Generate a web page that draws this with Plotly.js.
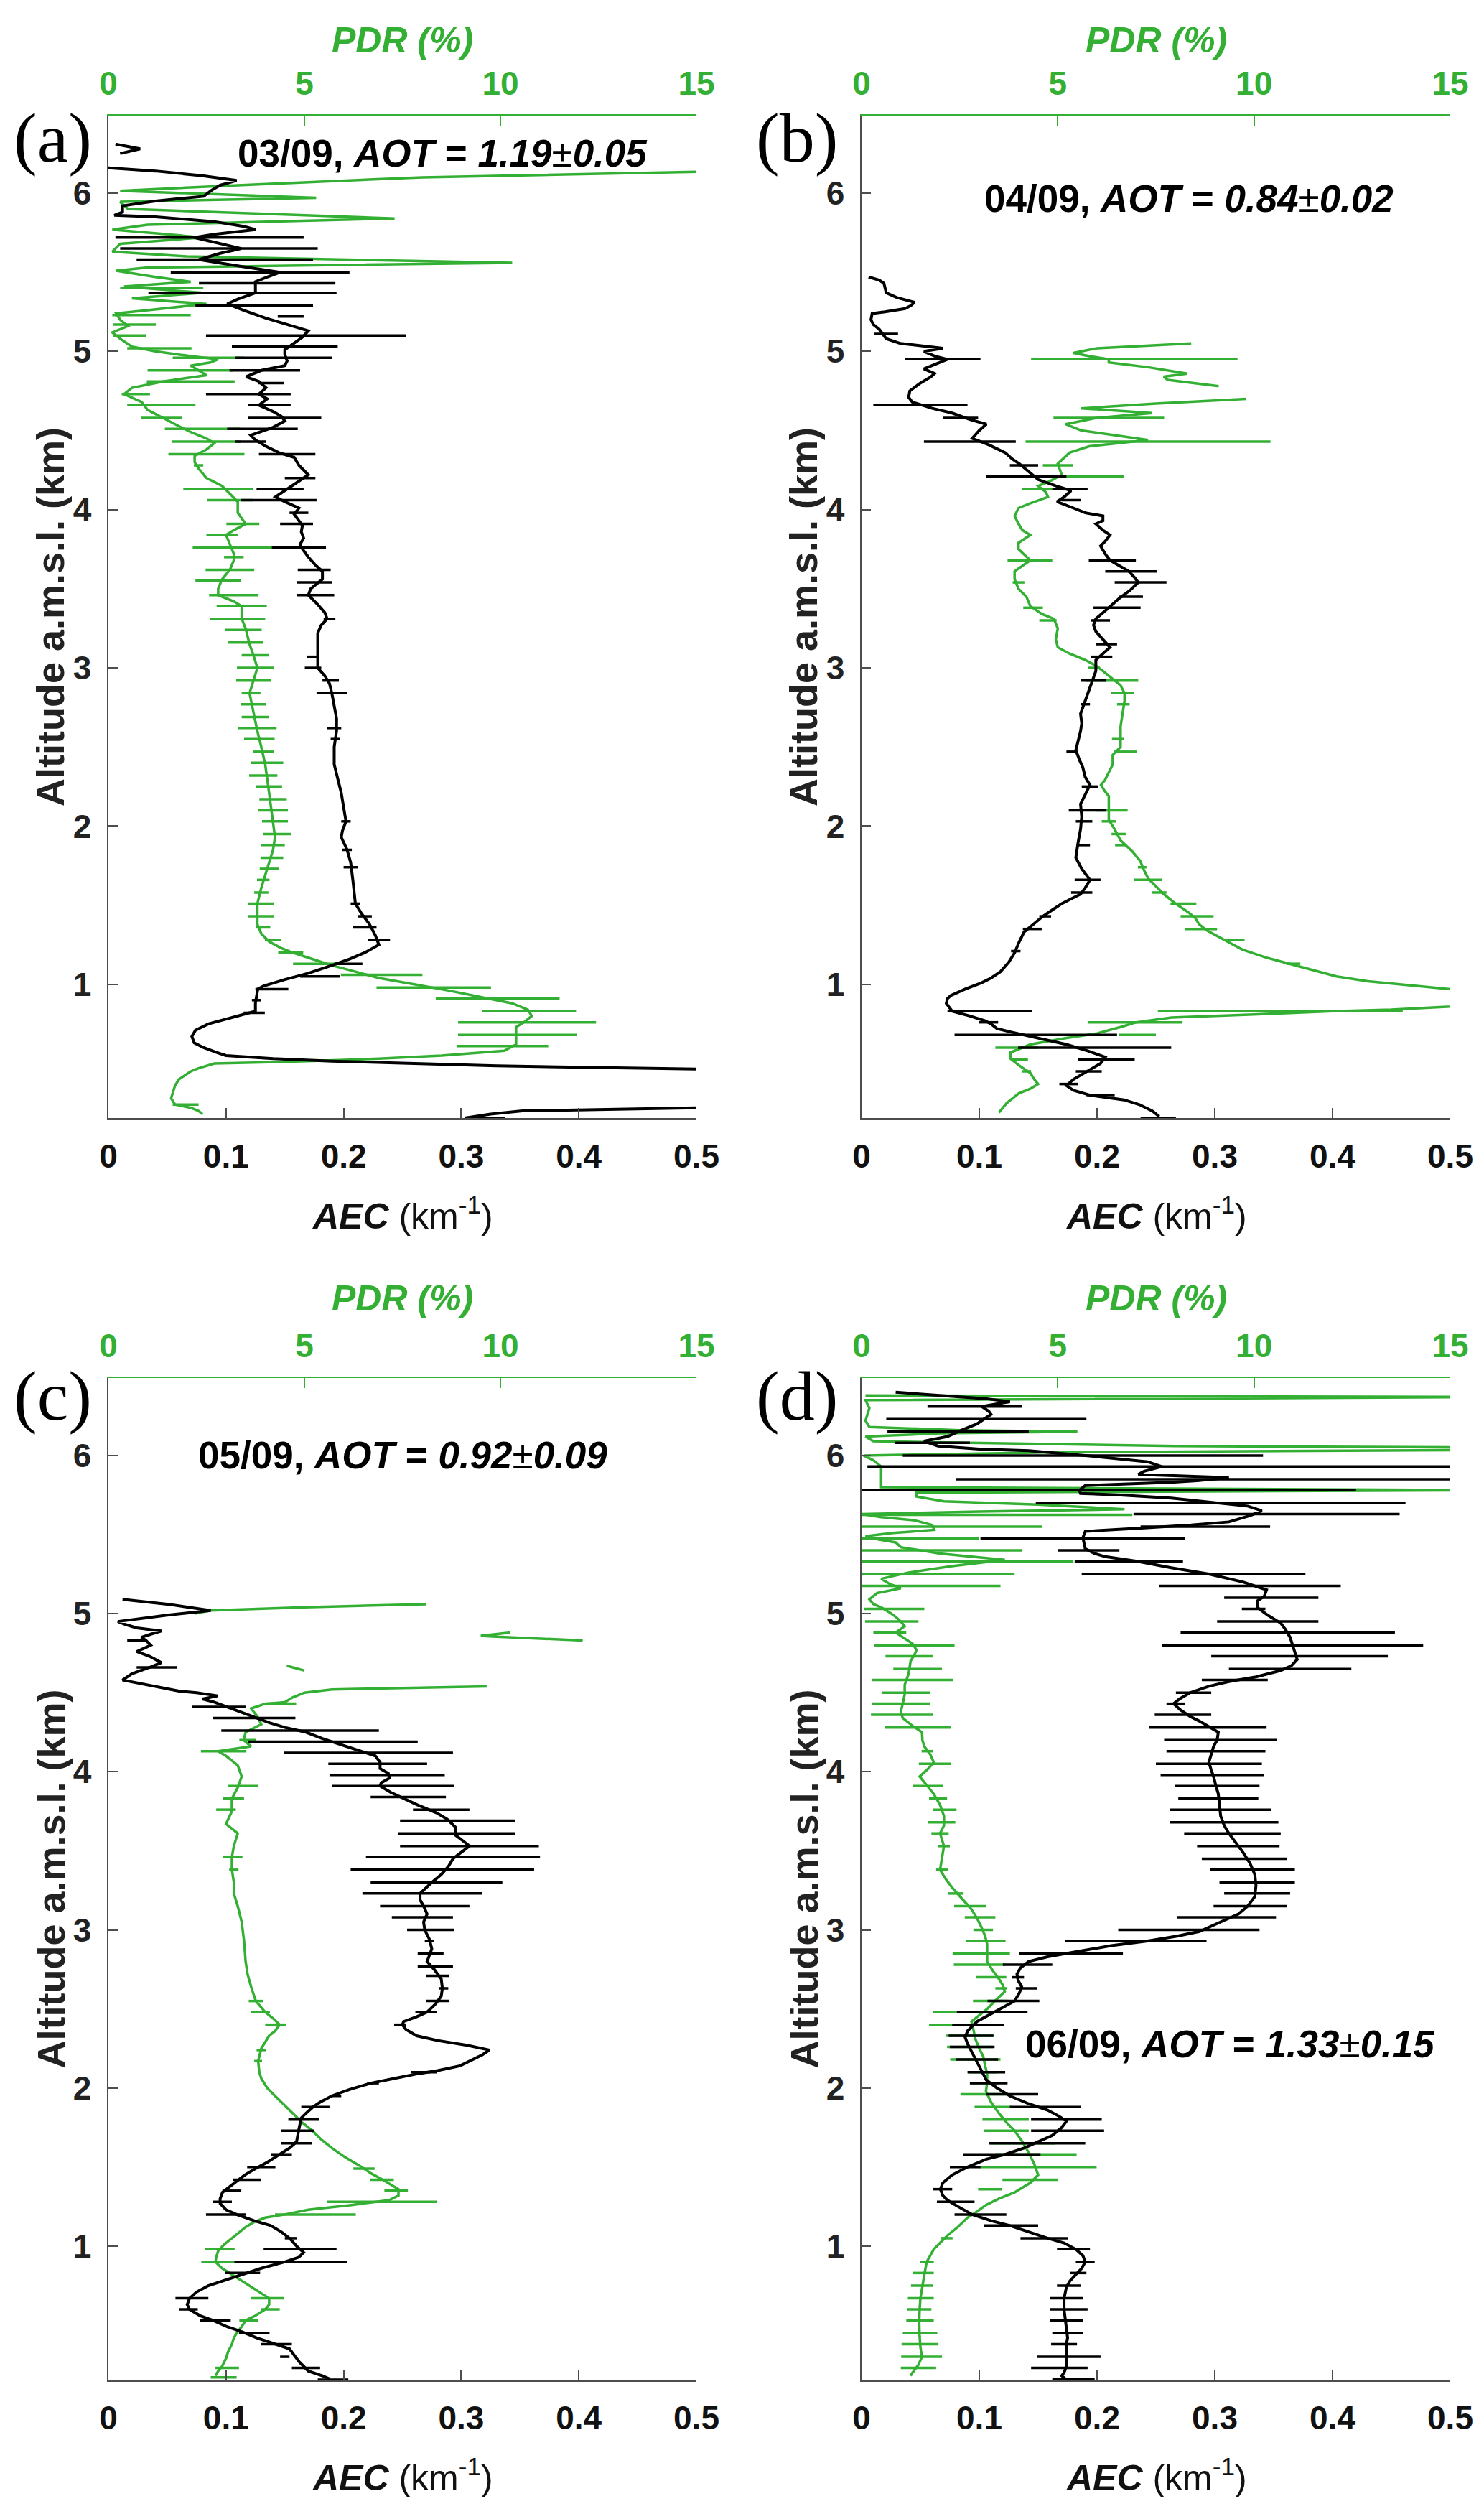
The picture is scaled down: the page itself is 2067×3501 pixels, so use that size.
<!DOCTYPE html>
<html><head><meta charset="utf-8">
<script src="https://cdn.plot.ly/plotly-3.0.1.min.js"></script>
<style>html,body{margin:0;padding:0;background:#fff}#chart{width:2067px;height:3501px}</style>
</head><body><div id="chart"></div>
<script>
// ---------- DATA (altitude km, value) ----------
const aecTicks = [0, 0.1, 0.2, 0.3, 0.4, 0.5];
const pdrTicks = [0, 5, 10, 15];
const altTicks = [1, 2, 3, 4, 5, 6];
const panelLetters = ['(a)', '(b)', '(c)', '(d)'];
const panelDates = ['03/09', '04/09', '05/09', '06/09'];
const panelAot = ['1.19', '0.84', '0.92', '1.33'];
const panelAotErr = ['0.05', '0.02', '0.09', '0.15'];

// Panel (a) AEC profile [alt, AEC]
const aAec = [[6.31,0.006],[6.28,0.027],[6.25,0.010],null,
[6.16,0.000],[6.14,0.040],[6.11,0.080],[6.08,0.109],[6.05,0.095],[6.02,0.088],[5.98,0.081],[5.95,0.040],[5.92,0.012],[5.88,0.012],[5.86,0.005],[5.85,0.040],[5.82,0.090],[5.79,0.115],[5.77,0.125],[5.74,0.090],[5.72,0.073],[5.69,0.090],[5.65,0.113],[5.62,0.095],[5.58,0.077],[5.54,0.110],[5.50,0.146],[5.47,0.135],[5.44,0.125],[5.40,0.125],[5.37,0.125],[5.33,0.110],[5.30,0.101],[5.26,0.115],[5.21,0.134],[5.17,0.152],[5.13,0.170],[5.09,0.165],[5.05,0.158],[5.01,0.150],[4.98,0.150],[4.94,0.152],[4.91,0.150],[4.88,0.130],[4.84,0.117],[4.81,0.128],[4.77,0.134],[4.73,0.128],[4.70,0.135],[4.66,0.128],[4.62,0.140],[4.59,0.147],[4.56,0.150],[4.52,0.140],[4.47,0.121],[4.44,0.125],[4.40,0.134],[4.36,0.145],[4.33,0.158],[4.28,0.162],[4.22,0.170],[4.17,0.160],[4.12,0.150],[4.08,0.142],[4.05,0.150],[4.01,0.162],[3.97,0.158],[3.94,0.161],[3.90,0.165],[3.86,0.164],[3.82,0.166],[3.78,0.163],[3.75,0.165],[3.70,0.170],[3.65,0.176],[3.61,0.182],[3.56,0.182],[3.50,0.172],[3.46,0.170],[3.40,0.178],[3.35,0.184],[3.31,0.186],[3.27,0.181],[3.22,0.178],[3.15,0.178],[3.08,0.178],[3.00,0.178],[2.95,0.184],[2.90,0.188],[2.84,0.190],[2.75,0.192],[2.68,0.194],[2.60,0.194],[2.50,0.192],[2.39,0.192],[2.30,0.195],[2.21,0.198],[2.12,0.200],[2.03,0.202],[1.97,0.199],[1.93,0.198],[1.85,0.203],[1.77,0.206],[1.65,0.208],[1.51,0.210],[1.45,0.215],[1.38,0.222],[1.31,0.227],[1.25,0.230],[1.20,0.218],[1.16,0.205],[1.12,0.190],[1.07,0.170],[1.03,0.150],[0.99,0.132],[0.97,0.127],[0.93,0.126],[0.88,0.125],[0.83,0.125],[0.79,0.105],[0.75,0.085],[0.71,0.074],[0.67,0.071],[0.63,0.073],[0.60,0.081],[0.57,0.092],[0.55,0.100],[0.53,0.140],[0.515,0.190],[0.50,0.260],[0.485,0.330],[0.465,0.500],[0.40,0.800],[0.30,0.800],[0.22,0.500],[0.20,0.352],[0.18,0.325],[0.155,0.303]];
// Panel (a) AEC error bars [alt, AEC, half-width]
const aAecErr = [[5.72,0.086,0.080],[5.65,0.094,0.084],[5.58,0.099,0.075],[5.50,0.129,0.076],[5.43,0.135,0.058],[5.37,0.114,0.080],[5.29,0.124,0.050],[5.22,0.155,0.011],[5.10,0.168,0.085],[5.03,0.150,0.045],[4.96,0.149,0.041],[4.88,0.133,0.030],[4.80,0.138,0.011],[4.73,0.119,0.036],[4.66,0.137,0.018],[4.58,0.150,0.031],[4.51,0.131,0.030],[4.43,0.121,0.013],[4.35,0.152,0.024],[4.20,0.163,0.013],[4.13,0.146,0.020],[4.06,0.145,0.032],[3.98,0.162,0.008],[3.91,0.160,0.014],[3.76,0.162,0.023],[3.62,0.175,0.014],[3.54,0.175,0.015],[3.46,0.176,0.016],[3.31,0.188,0.005],[3.07,0.173,0.004],[3.00,0.174,0.007],[2.92,0.189,0.007],[2.84,0.190,0.013],[2.62,0.192,0.006],[2.55,0.193,0.004],[2.03,0.202,0.004],[1.85,0.203,0.004],[1.74,0.206,0.006],[1.51,0.210,0.004],[1.43,0.218,0.006],[1.36,0.218,0.010],[1.28,0.230,0.0095],[1.13,0.204,0.012],[1.05,0.180,0.017],[0.97,0.139,0.014],[0.90,0.126,0.004],[0.82,0.124,0.009],[0.155,0.320,0.017]];
// Panel (a) PDR profile [alt, PDR %]
const aPdr = [[6.14,16],[6.10,8],[6.05,3.3],[6.015,0.3],[5.97,5.3],[5.945,0.3],[5.90,0.5],[5.84,7.3],[5.80,1.0],[5.77,0.1],[5.74,1.5],[5.72,2.4],[5.68,0.3],[5.63,0.1],[5.60,2.0],[5.56,10.3],[5.53,1.0],[5.51,0.2],[5.47,1.2],[5.44,2.1],[5.41,0.4],[5.37,2.4],[5.335,0.6],[5.30,2.5],[5.26,1.0],[5.24,0.2],[5.20,0.3],[5.16,0.5],[5.12,0.1],[5.08,0.3],[5.03,0.6],[5.00,1.2],[4.97,2.1],[4.95,2.8],[4.93,2.6],[4.91,2.1],[4.88,2.3],[4.85,2.5],[4.81,1.4],[4.77,0.6],[4.73,0.4],[4.68,0.85],[4.63,1.0],[4.59,1.3],[4.54,1.7],[4.49,2.1],[4.45,2.5],[4.42,2.7],[4.38,2.5],[4.34,2.2],[4.30,2.2],[4.26,2.3],[4.20,2.5],[4.15,2.9],[4.10,3.1],[4.05,3.3],[3.98,3.3],[3.91,3.5],[3.87,3.2],[3.84,3.0],[3.78,3.1],[3.72,3.2],[3.68,3.2],[3.62,3.1],[3.56,2.9],[3.50,2.8],[3.46,2.8],[3.42,3.2],[3.39,3.4],[3.31,3.4],[3.25,3.5],[3.15,3.6],[3.08,3.7],[3.00,3.8],[2.92,3.7],[2.84,3.6],[2.72,3.7],[2.60,3.8],[2.50,3.9],[2.39,4.0],[2.30,4.05],[2.21,4.1],[2.12,4.15],[2.03,4.2],[1.93,4.25],[1.85,4.2],[1.77,4.1],[1.70,4.0],[1.61,3.9],[1.51,3.8],[1.45,3.8],[1.38,3.8],[1.32,3.9],[1.27,4.1],[1.23,4.4],[1.20,4.7],[1.16,5.2],[1.12,5.7],[1.08,6.3],[1.04,6.9],[1.00,7.8],[0.96,8.7],[0.92,9.5],[0.88,10.3],[0.84,10.7],[0.80,10.8],[0.76,10.6],[0.73,10.4],[0.68,10.4],[0.62,10.4],[0.58,10.1],[0.55,8.5],[0.53,6.9],[0.51,4.5],[0.50,2.7],[0.47,2.3],[0.45,2.1],[0.40,1.8],[0.36,1.7],[0.28,1.6],[0.24,1.7],[0.22,2.1],[0.20,2.3],[0.18,2.4]];
// Panel (a) PDR error bars [alt, PDR, half-width]
const aPdrErr = [[5.40,1.36,1.06],[5.23,1.1,1.0],[5.17,0.66,0.55],[5.10,0.55,0.42],[5.02,1.3,0.82],[4.96,2.55,0.91],[4.88,2.09,1.09],[4.81,2.1,1.12],[4.73,0.7,0.36],[4.66,1.35,0.87],[4.58,1.36,0.52],[4.51,2.4,0.96],[4.43,2.5,0.89],[4.35,2.5,0.97],[4.28,2.3,0.12],[4.13,2.8,0.89],[4.06,3.1,0.58],[3.91,3.43,0.42],[3.84,2.9,0.4],[3.76,3.2,1.05],[3.70,3.2,0.25],[3.62,3.1,0.62],[3.55,2.8,0.58],[3.46,3.2,0.63],[3.39,3.4,0.64],[3.31,3.3,0.7],[3.24,3.44,0.47],[3.16,3.5,0.44],[3.08,3.75,0.35],[3.00,3.75,0.47],[2.92,3.7,0.44],[2.84,3.64,0.24],[2.77,3.7,0.32],[2.69,3.75,0.35],[2.62,3.8,0.49],[2.55,3.85,0.39],[2.47,3.95,0.27],[2.40,4.05,0.41],[2.32,3.95,0.36],[2.25,4.1,0.33],[2.17,4.2,0.35],[2.10,4.2,0.38],[2.03,4.25,0.33],[1.95,4.3,0.36],[1.88,4.2,0.3],[1.80,4.17,0.29],[1.73,4.1,0.24],[1.66,3.95,0.16],[1.58,3.9,0.18],[1.51,3.9,0.33],[1.43,3.9,0.33],[1.36,3.95,0.18],[1.28,4.2,0.21],[1.20,4.65,0.32],[1.13,5.27,0.56],[1.06,6.97,1.04],[0.98,8.3,1.46],[0.91,9.93,1.58],[0.83,10.73,1.2],[0.76,10.68,1.76],[0.68,10.44,1.52],[0.61,10.05,1.17],[0.24,1.97,0.33]];

// Panel (b)
const bAec = [[5.47,0.006],[5.45,0.015],[5.43,0.019],[5.40,0.020],[5.37,0.021],[5.34,0.030],[5.31,0.045],[5.29,0.042],[5.27,0.037],[5.25,0.020],[5.24,0.009],[5.20,0.008],[5.17,0.010],[5.14,0.015],[5.12,0.017],[5.08,0.021],[5.05,0.033],[5.02,0.069],[5.00,0.053],[4.97,0.062],[4.95,0.073],[4.92,0.063],[4.89,0.053],[4.86,0.062],[4.84,0.059],[4.80,0.050],[4.75,0.041],[4.71,0.040],[4.68,0.043],[4.64,0.060],[4.61,0.077],[4.57,0.092],[4.54,0.106],[4.50,0.100],[4.45,0.094],[4.41,0.108],[4.36,0.122],[4.32,0.128],[4.29,0.134],[4.24,0.142],[4.19,0.150],[4.15,0.165],[4.12,0.178],[4.08,0.172],[4.05,0.166],[4.01,0.180],[3.98,0.190],[3.96,0.205],[3.93,0.205],[3.91,0.199],[3.87,0.205],[3.84,0.211],[3.80,0.207],[3.77,0.203],[3.72,0.207],[3.68,0.211],[3.64,0.220],[3.61,0.227],[3.57,0.232],[3.54,0.235],[3.49,0.228],[3.44,0.219],[3.38,0.210],[3.31,0.199],[3.27,0.197],[3.23,0.199],[3.18,0.205],[3.13,0.211],[3.09,0.205],[3.05,0.199],[2.98,0.199],[2.92,0.196],[2.84,0.192],[2.77,0.189],[2.71,0.186],[2.65,0.187],[2.60,0.186],[2.54,0.184],[2.48,0.182],[2.42,0.185],[2.37,0.188],[2.31,0.190],[2.26,0.194],[2.20,0.190],[2.14,0.186],[2.06,0.187],[1.98,0.186],[1.90,0.184],[1.80,0.182],[1.73,0.187],[1.66,0.194],[1.61,0.190],[1.57,0.186],[1.54,0.178],[1.51,0.170],[1.47,0.162],[1.43,0.154],[1.38,0.146],[1.33,0.138],[1.27,0.134],[1.20,0.130],[1.14,0.125],[1.08,0.118],[1.04,0.110],[1.01,0.102],[0.97,0.088],[0.93,0.076],[0.91,0.073],[0.88,0.072],[0.85,0.075],[0.83,0.077],[0.80,0.092],[0.77,0.105],[0.75,0.110],[0.72,0.115],[0.70,0.126],[0.66,0.150],[0.62,0.174],[0.58,0.192],[0.54,0.207],[0.50,0.203],[0.47,0.196],[0.44,0.190],[0.40,0.180],[0.36,0.174],[0.33,0.180],[0.30,0.194],[0.27,0.223],[0.24,0.236],[0.20,0.247],[0.17,0.252],[0.155,0.251]];
const bAecErr = [[5.11,0.021,0.010],[4.95,0.069,0.032],[4.66,0.050,0.040],[4.58,0.084,0.015],[4.43,0.092,0.039],[4.28,0.138,0.012],[4.21,0.140,0.034],[4.13,0.177,0.015],[4.06,0.178,0.008],[3.68,0.213,0.020],[3.61,0.229,0.022],[3.54,0.237,0.022],[3.45,0.229,0.010],[3.38,0.217,0.020],[3.30,0.203,0.008],[3.15,0.208,0.009],[3.07,0.204,0.009],[2.92,0.197,0.011],[2.77,0.190,0.004],[2.47,0.179,0.005],[2.25,0.194,0.007],[2.10,0.192,0.016],[2.03,0.189,0.007],[1.88,0.189,0.005],[1.66,0.192,0.011],[1.58,0.187,0.009],[1.43,0.156,0.005],[1.35,0.145,0.008],[1.21,0.131,0.004],[0.83,0.109,0.036],[0.76,0.108,0.008],[0.68,0.148,0.069],[0.60,0.198,0.065],[0.525,0.208,0.024],[0.45,0.193,0.011],[0.37,0.176,0.008],[0.30,0.203,0.012],[0.155,0.252,0.015]];
const bPdr = [[5.05,8.4],[5.02,6.0],[4.99,5.4],[4.97,5.8],[4.95,6.3],[4.93,6.3],[4.90,7.3],[4.86,8.3],[4.84,7.7],[4.82,7.8],[4.78,9.1],null,
[4.70,9.8],[4.67,7.5],[4.64,5.6],[4.61,7.4],[4.58,6.0],[4.54,5.2],[4.50,5.6],[4.44,7.3],[4.40,5.8],[4.36,5.3],[4.29,5.0],[4.22,5.1],[4.18,4.8],[4.15,4.5],[4.11,4.7],[4.08,4.75],[4.04,4.3],[4.01,4.0],[3.96,3.9],[3.91,4.0],[3.87,4.1],[3.84,4.3],[3.79,4.0],[3.75,4.0],[3.68,4.3],[3.61,3.9],[3.56,3.9],[3.50,4.0],[3.45,4.2],[3.39,4.3],[3.34,4.6],[3.31,4.9],[3.25,5.0],[3.18,4.95],[3.13,5.0],[3.09,5.3],[3.05,5.7],[3.01,6.0],[2.97,6.2],[2.93,6.4],[2.89,6.6],[2.84,6.7],[2.79,6.7],[2.71,6.65],[2.63,6.6],[2.55,6.6],[2.50,6.6],[2.45,6.4],[2.39,6.4],[2.34,6.3],[2.29,6.2],[2.26,6.1],[2.22,6.2],[2.19,6.3],[2.12,6.3],[2.04,6.3],[1.98,6.45],[1.91,6.6],[1.84,6.9],[1.78,7.1],[1.72,7.2],[1.67,7.3],[1.62,7.5],[1.57,7.7],[1.51,8.0],[1.46,8.3],[1.42,8.5],[1.38,8.6],[1.34,8.8],[1.30,9.1],[1.26,9.4],[1.22,9.7],[1.17,10.3],[1.13,10.9],[1.09,11.5],[1.05,12.1],[1.02,12.9],[1.00,13.7],[0.98,14.5],[0.97,15.0],[0.95,16.5],[0.90,17.0],[0.87,15.5],[0.86,15.0],[0.84,13.5],[0.83,12.0],[0.81,10.0],[0.79,7.9],[0.76,7.0],[0.73,6.6],[0.69,6.0],[0.66,5.2],[0.62,4.3],[0.59,4.0],[0.57,3.8],[0.53,3.8],[0.49,4.0],[0.44,4.3],[0.40,4.4],[0.37,4.5],[0.34,4.3],[0.31,4.0],[0.25,3.7],[0.19,3.5]];
const bPdrErr = [[4.95,6.95,2.63],[4.58,6.3,1.41],[4.43,7.3,3.12],[4.28,5.0,0.38],[4.21,5.65,1.03],[4.13,4.56,0.48],[3.68,4.29,0.57],[3.54,4.0,0.15],[3.38,4.37,0.25],[3.30,4.75,0.22],[3.00,5.92,0.15],[2.92,6.38,0.67],[2.84,6.65,0.3],[2.77,6.67,0.16],[2.55,6.53,0.15],[2.47,6.73,0.29],[2.10,6.37,0.41],[2.03,6.3,0.18],[1.95,6.55,0.18],[1.88,6.6,0.14],[1.74,7.15,0.11],[1.66,7.3,0.35],[1.58,7.58,0.19],[1.51,8.2,0.33],[1.43,8.55,0.42],[1.35,8.65,0.41],[1.28,9.52,0.24],[1.13,11.0,0.18],[0.83,10.67,3.12],[0.76,6.97,1.21],[0.68,7.03,0.47],[0.60,3.95,0.54],[0.525,4.02,0.22],[0.45,4.2,0.12]];

// Panel (c)
const cAec = [[5.09,0.012],[5.06,0.050],[5.02,0.087],[4.99,0.050],[4.95,0.008],[4.93,0.015],[4.91,0.024],[4.89,0.045],[4.87,0.036],[4.85,0.028],[4.83,0.032],[4.80,0.036],[4.78,0.030],[4.76,0.024],[4.73,0.035],[4.69,0.045],[4.66,0.035],[4.62,0.020],[4.58,0.012],[4.56,0.025],[4.54,0.040],[4.51,0.060],[4.50,0.075],[4.49,0.085],[4.48,0.093],[4.46,0.080],[4.44,0.090],[4.41,0.101],[4.38,0.112],[4.34,0.125],[4.31,0.137],[4.28,0.150],[4.25,0.168],[4.21,0.182],[4.17,0.198],[4.14,0.210],[4.10,0.227],[4.06,0.231],[4.02,0.231],[3.99,0.238],[3.96,0.239],[3.93,0.232],[3.91,0.231],[3.87,0.240],[3.83,0.251],[3.79,0.263],[3.74,0.279],[3.70,0.288],[3.65,0.295],[3.60,0.295],[3.56,0.302],[3.53,0.307],[3.49,0.300],[3.45,0.293],[3.40,0.289],[3.35,0.283],[3.30,0.275],[3.27,0.271],[3.23,0.265],[3.19,0.265],[3.15,0.268],[3.10,0.271],[3.05,0.268],[3.00,0.269],[2.94,0.273],[2.88,0.275],[2.84,0.273],[2.80,0.271],[2.75,0.277],[2.69,0.283],[2.63,0.284],[2.58,0.283],[2.53,0.278],[2.48,0.271],[2.45,0.262],[2.42,0.251],[2.40,0.250],[2.37,0.253],[2.33,0.262],[2.30,0.280],[2.27,0.305],[2.24,0.324],[2.21,0.318],[2.18,0.310],[2.14,0.299],[2.11,0.280],[2.09,0.263],[2.06,0.243],[2.03,0.223],[1.99,0.205],[1.95,0.190],[1.91,0.180],[1.88,0.174],[1.84,0.168],[1.81,0.164],[1.74,0.162],[1.66,0.160],[1.62,0.154],[1.58,0.146],[1.53,0.135],[1.49,0.125],[1.45,0.116],[1.41,0.109],[1.37,0.102],[1.34,0.097],[1.30,0.095],[1.27,0.095],[1.23,0.100],[1.20,0.109],[1.16,0.124],[1.13,0.138],[1.09,0.147],[1.05,0.154],[1.00,0.160],[0.96,0.166],[0.93,0.162],[0.90,0.150],[0.86,0.130],[0.82,0.113],[0.78,0.097],[0.75,0.085],[0.71,0.075],[0.67,0.069],[0.63,0.067],[0.60,0.069],[0.56,0.078],[0.53,0.089],[0.49,0.101],[0.46,0.113],[0.42,0.126],[0.39,0.138],[0.35,0.154],[0.31,0.158],[0.27,0.162],[0.24,0.166],[0.21,0.170],[0.18,0.182],[0.16,0.188]];
const cAecErr = [[4.83,0.024,0.008],[4.66,0.041,0.017],[4.41,0.094,0.023],[4.34,0.124,0.035],[4.26,0.163,0.067],[4.19,0.191,0.072],[4.12,0.221,0.072],[4.05,0.229,0.042],[3.98,0.237,0.049],[3.91,0.242,0.052],[3.84,0.255,0.032],[3.76,0.283,0.024],[3.69,0.297,0.049],[3.61,0.296,0.050],[3.53,0.307,0.059],[3.46,0.293,0.074],[3.38,0.284,0.078],[3.30,0.279,0.056],[3.23,0.267,0.051],[3.15,0.269,0.038],[3.08,0.267,0.026],[3.00,0.274,0.020],[2.93,0.273,0.004],[2.85,0.274,0.011],[2.77,0.278,0.015],[2.71,0.280,0.010],[2.63,0.285,0.004],[2.55,0.280,0.010],[2.48,0.270,0.009],[2.40,0.248,0.005],[2.10,0.268,0.011],[2.03,0.225,0.005],[1.95,0.193,0.005],[1.88,0.176,0.012],[1.80,0.166,0.013],[1.73,0.161,0.014],[1.65,0.160,0.013],[1.58,0.147,0.009],[1.50,0.130,0.012],[1.42,0.118,0.012],[1.35,0.105,0.008],[1.28,0.097,0.008],[1.20,0.100,0.017],[1.05,0.155,0.005],[0.98,0.163,0.031],[0.90,0.155,0.048],[0.83,0.114,0.015],[0.67,0.071,0.014],[0.60,0.068,0.008],[0.53,0.091,0.013],[0.45,0.124,0.013],[0.38,0.143,0.013],[0.30,0.150,0.004],[0.23,0.168,0.012],[0.155,0.191,0.013]];
const cPdr = [[5.00,2.2],[5.02,2.6],[5.04,5.0],[5.06,8.1],null,
[4.88,10.25],[4.86,9.5],[4.855,9.8],[4.83,12.1],null,
[4.67,4.55],[4.64,5.0],null,
[4.54,9.65],[4.52,5.7],[4.50,5.0],[4.47,4.7],[4.44,4.5],[4.43,4.0],[4.40,3.64],[4.35,3.8],[4.30,3.9],[4.25,3.5],[4.20,3.45],[4.16,3.64],[4.13,2.8],[4.10,3.0],[4.04,3.3],[3.97,3.4],[3.90,3.3],[3.83,3.15],[3.75,3.15],[3.67,3.0],[3.61,3.3],[3.53,3.2],[3.46,3.15],[3.38,3.15],[3.30,3.2],[3.23,3.2],[3.15,3.3],[3.05,3.4],[2.93,3.46],[2.80,3.5],[2.72,3.55],[2.64,3.64],[2.55,3.76],[2.48,4.0],[2.44,4.2],[2.40,4.37],[2.36,4.25],[2.33,4.1],[2.29,4.0],[2.25,3.9],[2.17,3.82],[2.10,3.85],[2.06,3.9],[2.00,4.05],[1.95,4.25],[1.90,4.45],[1.84,4.7],[1.78,4.95],[1.73,5.2],[1.67,5.45],[1.62,5.7],[1.56,6.05],[1.51,6.4],[1.46,6.7],[1.42,7.0],[1.39,7.2],[1.36,7.4],[1.32,7.4],[1.29,7.16],[1.26,6.2],[1.23,5.1],[1.20,4.5],[1.18,4.0],[1.15,3.7],[1.12,3.5],[1.08,3.3],[1.05,3.15],[1.01,2.95],[0.97,2.8],[0.93,2.75],[0.90,2.73],[0.86,2.9],[0.82,3.15],[0.78,3.4],[0.74,3.64],[0.70,3.9],[0.67,4.1],[0.63,4.1],[0.60,4.0],[0.56,3.75],[0.53,3.5],[0.49,3.4],[0.46,3.3],[0.42,3.2],[0.38,3.15],[0.33,3.05],[0.29,3.0],[0.24,2.9],[0.21,2.8],[0.18,2.73]];
const cPdrErr = [[4.43,4.4,0.39],[4.20,3.55,0.21],[4.13,2.94,0.58],[3.91,3.43,0.39],[3.83,3.19,0.27],[3.76,3.0,0.25],[3.46,3.17,0.25],[3.38,3.2,0.12],[2.55,3.76,0.18],[2.48,3.88,0.24],[2.40,4.27,0.27],[2.24,3.9,0.12],[2.17,3.82,0.1],[1.49,6.52,0.27],[1.42,6.98,0.3],[1.35,7.34,0.3],[1.28,6.98,1.4],[1.20,5.28,1.03],[0.98,2.84,0.38],[0.90,2.79,0.42],[0.67,4.06,0.42],[0.60,4.13,0.24],[0.53,3.58,0.24],[0.23,3.03,0.3],[0.17,2.94,0.33]];

// Panel (d)
const dAec = [[6.40,0.029],[6.38,0.070],[6.36,0.105],[6.34,0.126],[6.32,0.110],[6.31,0.102],[6.28,0.108],[6.26,0.110],[6.23,0.104],[6.20,0.098],[6.16,0.085],[6.12,0.073],[6.09,0.053],[6.06,0.065],[6.04,0.100],[6.03,0.142],[6.00,0.190],[5.96,0.243],[5.93,0.255],[5.90,0.240],[5.88,0.235],[5.87,0.280],[5.86,0.312],[5.84,0.285],[5.83,0.263],[5.81,0.190],[5.78,0.185],[5.76,0.186],[5.75,0.220],[5.73,0.263],[5.70,0.305],[5.68,0.328],[5.65,0.340],[5.62,0.330],[5.58,0.312],[5.56,0.280],[5.54,0.235],[5.52,0.190],[5.48,0.188],[5.44,0.189],[5.41,0.190],[5.38,0.198],[5.36,0.207],[5.33,0.235],[5.29,0.263],[5.25,0.295],[5.20,0.324],[5.15,0.344],[5.11,0.342],[5.08,0.336],[5.04,0.336],[4.99,0.345],[4.94,0.356],[4.90,0.360],[4.85,0.364],[4.78,0.367],[4.71,0.370],[4.67,0.365],[4.64,0.356],[4.60,0.335],[4.57,0.312],[4.54,0.295],[4.50,0.279],[4.46,0.270],[4.43,0.265],[4.39,0.271],[4.35,0.279],[4.32,0.287],[4.28,0.296],[4.25,0.303],[4.20,0.302],[4.16,0.299],[4.11,0.297],[4.06,0.295],[4.01,0.297],[3.97,0.299],[3.91,0.301],[3.86,0.303],[3.79,0.304],[3.72,0.305],[3.66,0.308],[3.61,0.312],[3.55,0.318],[3.49,0.324],[3.42,0.330],[3.35,0.334],[3.28,0.335],[3.21,0.334],[3.15,0.328],[3.10,0.320],[3.05,0.305],[2.99,0.287],[2.96,0.268],[2.93,0.243],[2.90,0.212],[2.86,0.182],[2.83,0.158],[2.80,0.142],[2.76,0.135],[2.72,0.132],[2.68,0.133],[2.64,0.136],[2.60,0.134],[2.55,0.130],[2.51,0.120],[2.47,0.110],[2.42,0.098],[2.36,0.090],[2.32,0.088],[2.28,0.090],[2.22,0.094],[2.17,0.098],[2.11,0.102],[2.05,0.106],[2.00,0.115],[1.95,0.126],[1.90,0.142],[1.86,0.158],[1.82,0.168],[1.79,0.174],[1.75,0.170],[1.70,0.162],[1.66,0.150],[1.62,0.138],[1.58,0.122],[1.55,0.106],[1.50,0.090],[1.45,0.077],[1.40,0.069],[1.36,0.067],[1.32,0.069],[1.29,0.073],[1.25,0.082],[1.20,0.094],[1.16,0.110],[1.13,0.126],[1.09,0.142],[1.05,0.158],[1.02,0.172],[0.98,0.182],[0.94,0.188],[0.90,0.190],[0.86,0.187],[0.82,0.182],[0.78,0.177],[0.74,0.174],[0.67,0.172],[0.60,0.172],[0.53,0.173],[0.46,0.174],[0.42,0.175],[0.38,0.174],[0.31,0.174],[0.24,0.174],[0.20,0.172],[0.18,0.170],[0.155,0.174]];
const dAecErr = [[6.31,0.096,0.040],[6.23,0.106,0.085],[6.15,0.082,0.060],[6.08,0.060,0.032],[6.00,0.188,0.153],[5.93,0.255,0.250],[5.85,0.290,0.210],[5.78,0.210,0.210],[5.70,0.305,0.157],[5.63,0.344,0.113],[5.55,0.292,0.055],[5.475,0.188,0.087],[5.40,0.193,0.026],[5.33,0.227,0.046],[5.25,0.282,0.095],[5.175,0.330,0.077],[5.10,0.348,0.040],[5.03,0.333,0.010],[4.95,0.345,0.043],[4.88,0.362,0.091],[4.80,0.366,0.111],[4.73,0.372,0.075],[4.65,0.364,0.052],[4.58,0.317,0.028],[4.50,0.282,0.015],[4.43,0.267,0.008],[4.36,0.273,0.024],[4.28,0.294,0.050],[4.20,0.305,0.048],[4.13,0.301,0.042],[4.05,0.295,0.045],[3.98,0.298,0.044],[3.91,0.302,0.036],[3.83,0.303,0.034],[3.76,0.305,0.043],[3.68,0.308,0.046],[3.61,0.315,0.041],[3.53,0.320,0.035],[3.45,0.325,0.036],[3.38,0.332,0.036],[3.30,0.336,0.032],[3.23,0.336,0.028],[3.15,0.330,0.031],[3.08,0.310,0.042],[3.00,0.278,0.060],[2.93,0.233,0.060],[2.85,0.178,0.044],[2.78,0.141,0.021],[2.70,0.133,0.005],[2.63,0.140,0.009],[2.55,0.129,0.022],[2.48,0.111,0.030],[2.40,0.099,0.022],[2.33,0.093,0.019],[2.26,0.094,0.019],[2.18,0.098,0.018],[2.10,0.106,0.016],[2.03,0.108,0.016],[1.96,0.128,0.022],[1.88,0.156,0.030],[1.80,0.174,0.030],[1.73,0.175,0.031],[1.65,0.149,0.041],[1.58,0.119,0.033],[1.50,0.088,0.013],[1.36,0.069,0.008],[1.28,0.080,0.016],[1.20,0.101,0.022],[1.13,0.127,0.023],[1.05,0.155,0.020],[0.98,0.180,0.014],[0.90,0.190,0.008],[0.83,0.184,0.007],[0.75,0.176,0.010],[0.67,0.174,0.014],[0.60,0.176,0.016],[0.53,0.174,0.014],[0.45,0.175,0.013],[0.38,0.172,0.011],[0.30,0.176,0.027],[0.23,0.168,0.024],[0.16,0.180,0.018]];
const dPdr = [[6.38,0.1],[6.37,16],[6.35,0.1],[6.30,0.2],[6.22,0.1],[6.18,0.2],[6.16,2.5],[6.15,5.5],[6.14,2.0],[6.12,0.1],[6.09,0.3],[6.06,8],[6.05,16],[6.035,16],[6.02,5],[6.00,0.05],[5.97,0.3],[5.93,0.5],[5.86,0.5],[5.80,0.5],[5.78,16],[5.765,1.4],[5.74,1.4],[5.71,2.1],[5.69,4.5],[5.66,6.7],[5.645,3],[5.63,0.0],[5.61,0.5],[5.59,1.35],[5.56,1.8],[5.53,1.85],[5.51,0.8],[5.49,0.1],[5.47,0.4],[5.45,0.87],[5.42,1.0],[5.38,2.0],[5.34,3.65],[5.32,3.0],[5.30,2.3],[5.26,1.2],[5.22,0.5],[5.19,0.7],[5.16,1.0],[5.13,0.4],[5.09,0.2],[5.06,0.3],[5.04,0.5],[5.01,0.7],[4.98,0.87],[4.95,1.0],[4.92,1.1],[4.88,0.87],[4.85,1.05],[4.81,1.3],[4.77,1.4],[4.74,1.35],[4.70,1.25],[4.67,1.23],[4.62,1.2],[4.55,1.1],[4.49,1.1],[4.43,1.05],[4.38,1.0],[4.34,1.05],[4.29,1.3],[4.25,1.54],[4.20,1.55],[4.16,1.6],[4.11,1.75],[4.06,1.84],[4.02,1.7],[3.97,1.48],[3.92,1.65],[3.86,1.84],[3.79,2.0],[3.72,2.1],[3.66,2.1],[3.61,2.0],[3.53,2.1],[3.45,2.05],[3.38,2.0],[3.32,2.15],[3.27,2.3],[3.20,2.55],[3.13,2.8],[3.07,2.95],[3.02,3.05],[2.96,3.15],[2.91,3.2],[2.85,3.2],[2.80,3.2],[2.74,3.35],[2.69,3.5],[2.65,3.6],[2.61,3.65],[2.55,3.4],[2.50,3.2],[2.46,3.0],[2.42,2.8],[2.37,2.85],[2.31,2.9],[2.25,3.0],[2.20,3.1],[2.14,3.15],[2.09,3.2],[2.03,3.2],[1.98,3.17],[1.91,3.3],[1.84,3.5],[1.78,3.7],[1.73,3.9],[1.66,4.1],[1.59,4.26],[1.52,4.4],[1.45,4.5],[1.40,4.3],[1.34,3.9],[1.30,3.5],[1.26,3.17],[1.22,2.95],[1.18,2.7],[1.12,2.45],[1.07,2.2],[1.02,2.0],[0.98,1.84],[0.94,1.75],[0.90,1.66],[0.82,1.6],[0.74,1.54],[0.67,1.5],[0.60,1.48],[0.52,1.47],[0.43,1.48],[0.36,1.5],[0.30,1.54],[0.25,1.45],[0.20,1.3],[0.18,1.25]];
const dPdrErr = [[5.625,3.4,3.5],[5.55,2.3,2.3],[5.475,1.5,1.5],[5.40,2.05,2.05],[5.33,2.7,2.7],[5.25,1.95,1.95],[5.175,1.77,1.77],[5.03,0.83,0.77],[4.95,0.77,0.68],[4.88,0.72,0.42],[4.80,1.35,1.02],[4.73,1.21,0.6],[4.65,1.43,0.62],[4.58,1.30,1.03],[4.50,1.13,0.62],[4.43,1.0,0.74],[4.36,1.03,0.79],[4.28,1.43,0.84],[4.13,1.68,0.15],[4.05,1.87,0.41],[3.91,1.69,0.39],[3.83,1.95,0.23],[3.76,2.12,0.3],[3.68,2.04,0.35],[3.61,2.0,0.22],[3.53,2.1,0.15],[3.38,2.05,0.15],[3.23,2.4,0.2],[3.15,2.77,0.41],[3.08,3.02,0.39],[3.00,3.1,0.25],[2.93,3.16,0.51],[2.85,3.05,0.73],[2.78,3.0,0.65],[2.70,3.3,0.39],[2.63,3.56,0.15],[2.55,3.28,0.44],[2.48,2.43,0.62],[2.40,2.68,0.96],[2.33,2.76,0.62],[2.26,2.76,0.58],[2.18,2.9,0.64],[2.10,3.11,0.36],[2.03,3.14,0.37],[1.96,3.12,0.6],[1.88,3.35,0.47],[1.80,3.67,0.59],[1.73,3.69,0.57],[1.65,4.1,0.82],[1.58,4.45,1.03],[1.50,4.5,1.49],[1.42,4.3,0.71],[1.36,3.27,0.3],[1.05,2.17,0.15],[0.90,1.67,0.17],[0.83,1.57,0.27],[0.75,1.54,0.28],[0.67,1.51,0.33],[0.60,1.47,0.31],[0.53,1.49,0.35],[0.45,1.49,0.44],[0.38,1.49,0.47],[0.30,1.53,0.52],[0.23,1.45,0.45]];

// ---------- STYLE / LAYOUT ----------
const GREEN = '#33b033';
const BLACK = '#000000';
const AXC = '#4d4d4d';
const SANS = 'Liberation Sans, Arial, Helvetica, sans-serif';
const W = 2067, H = 3501;

const xDom = [[151/W, 970/W], [1200/W, 2020/W]];
const yDom = [[1 - 1557/H, 1 - 161/H], [1 - 3314/H, 1 - 1919/H]];
const yRange = [0.155, 6.49];

const panels = [
  {aec: aAec, aecErr: aAecErr, pdr: aPdr, pdrErr: aPdrErr, col: 0, row: 0, txt: [0.284, 6.25]},
  {aec: bAec, aecErr: bAecErr, pdr: bPdr, pdrErr: bPdrErr, col: 1, row: 0, txt: [0.278, 5.965]},
  {aec: cAec, aecErr: cAecErr, pdr: cPdr, pdrErr: cPdrErr, col: 0, row: 1, txt: [0.250, 6.0]},
  {aec: dAec, aecErr: dAecErr, pdr: dPdr, pdrErr: dPdrErr, col: 1, row: 1, txt: [0.313, 2.28]}
];

function prof(pairs) {
  return {y: pairs.map(p => p ? p[0] : null), x: pairs.map(p => p ? p[1] : null)};
}
function errs(tri) {
  return {y: tri.map(t => t[0]), x: tri.map(t => t[1]), e: tri.map(t => t[2])};
}

const traces = [];
const layout = {
  width: W, height: H,
  margin: {l: 0, r: 0, t: 0, b: 0},
  paper_bgcolor: '#ffffff', plot_bgcolor: '#ffffff',
  showlegend: false,
  annotations: []
};

panels.forEach((p, i) => {
  const n = i + 1;           // base axis (PDR, top)
  const m = i + 5;           // overlay axis (AEC, bottom)
  const xb = 'x' + n, yb = 'y' + n, xo = 'x' + m;
  const xd = xDom[p.col], yd = yDom[p.row];

  const pp = prof(p.pdr);
  traces.push({type: 'scatter', mode: 'lines', x: pp.x, y: pp.y, xaxis: xb, yaxis: yb,
    line: {color: GREEN, width: 3.5}, connectgaps: false, hoverinfo: 'skip'});
  const pe = errs(p.pdrErr);
  traces.push({type: 'scatter', mode: 'markers', x: pe.x, y: pe.y, xaxis: xb, yaxis: yb,
    marker: {size: 1, color: 'rgba(0,0,0,0)'},
    error_x: {type: 'data', array: pe.e, symmetric: true, color: GREEN, thickness: 3.5, width: 0},
    hoverinfo: 'skip'});
  const ap = prof(p.aec);
  traces.push({type: 'scatter', mode: 'lines', x: ap.x, y: ap.y, xaxis: xo, yaxis: yb,
    line: {color: BLACK, width: 4}, connectgaps: false, hoverinfo: 'skip'});
  const ae = errs(p.aecErr);
  traces.push({type: 'scatter', mode: 'markers', x: ae.x, y: ae.y, xaxis: xo, yaxis: yb,
    marker: {size: 1, color: 'rgba(0,0,0,0)'},
    error_x: {type: 'data', array: ae.e, symmetric: true, color: BLACK, thickness: 3.5, width: 0},
    hoverinfo: 'skip'});

  layout['xaxis' + n] = {
    domain: xd, anchor: yb, side: 'top', range: [0, 15],
    tickmode: 'array', tickvals: pdrTicks, ticktext: pdrTicks.map(String),
    ticks: 'inside', ticklen: 14, tickwidth: 2, tickcolor: GREEN,
    showline: true, linecolor: GREEN, linewidth: 2.5, mirror: false,
    showgrid: false, zeroline: false, ticklabelstandoff: 8,
    tickfont: {family: SANS, size: 46, color: GREEN, weight: 'bold'}
  };
  layout['xaxis' + m] = {
    overlaying: xb, anchor: yb, side: 'bottom', range: [0, 0.5],
    tickmode: 'array', tickvals: aecTicks, ticktext: aecTicks.map(String),
    ticks: 'inside', ticklen: 14, tickwidth: 2, tickcolor: AXC,
    showline: true, linecolor: AXC, linewidth: 2.5, mirror: false,
    showgrid: false, zeroline: false, ticklabelstandoff: 11,
    tickfont: {family: SANS, size: 46, color: '#111111', weight: 'bold'}
  };
  layout['yaxis' + n] = {
    domain: yd, anchor: xb, range: yRange,
    tickmode: 'array', tickvals: altTicks, ticktext: altTicks.map(String),
    ticks: 'inside', ticklen: 13, tickwidth: 2, tickcolor: AXC,
    showline: true, linecolor: AXC, linewidth: 2.5, mirror: false,
    showgrid: false, zeroline: false, ticklabelstandoff: 12,
    tickfont: {family: SANS, size: 46, color: '#222222', weight: 'bold'}
  };

  const cx = (xd[0] + xd[1]) / 2;
  const cy = (yd[0] + yd[1]) / 2;
  const pdrTitleY = p.row === 0 ? 1 - 56/H : 1 - 1808/H;
  const aecTitleY = p.row === 0 ? 1 - 1690/H : 1 - 3447/H;
  const letterY = p.row === 0 ? 1 - 192/H : 1 - 1944/H;
  const letterX = p.col === 0 ? 17/W : 1051/W;
  const yTitleX = p.col === 0 ? 70/W : 1119/W;

  layout.annotations.push(
    {xref: 'paper', yref: 'paper', x: cx, y: pdrTitleY, xanchor: 'center', yanchor: 'middle',
     showarrow: false, text: '<b><i>PDR (%)</i></b>', font: {family: SANS, size: 50, color: GREEN}},
    {xref: 'paper', yref: 'paper', x: cx, y: aecTitleY, xanchor: 'center', yanchor: 'middle',
     showarrow: false, text: '<b><i>AEC</i></b> (km<sup>-1</sup>)', font: {family: SANS, size: 50, color: '#111111'}},
    {xref: 'paper', yref: 'paper', x: yTitleX, y: cy, xanchor: 'center', yanchor: 'middle', textangle: -90,
     showarrow: false, text: '<b>Altitude a.m.s.l. (km)</b>', font: {family: SANS, size: 54, color: '#222222'}},
    {xref: 'paper', yref: 'paper', x: letterX, y: letterY, xanchor: 'left', yanchor: 'middle',
     showarrow: false, text: panelLetters[i], font: {family: 'Liberation Serif, Times New Roman, serif', size: 98, color: '#000000'}},
    {xref: xo, yref: yb, x: p.txt[0], y: p.txt[1], xanchor: 'center', yanchor: 'middle',
     showarrow: false,
     text: '<b>' + panelDates[i] + ', <i>AOT</i> = <i>' + panelAot[i] + '</i></b>±<b><i>' + panelAotErr[i] + '</i></b>',
     font: {family: SANS, size: 53, color: '#000000'}}
  );
});

Plotly.newPlot('chart', traces, layout, {staticPlot: true, displayModeBar: false});
</script>
</body></html>
